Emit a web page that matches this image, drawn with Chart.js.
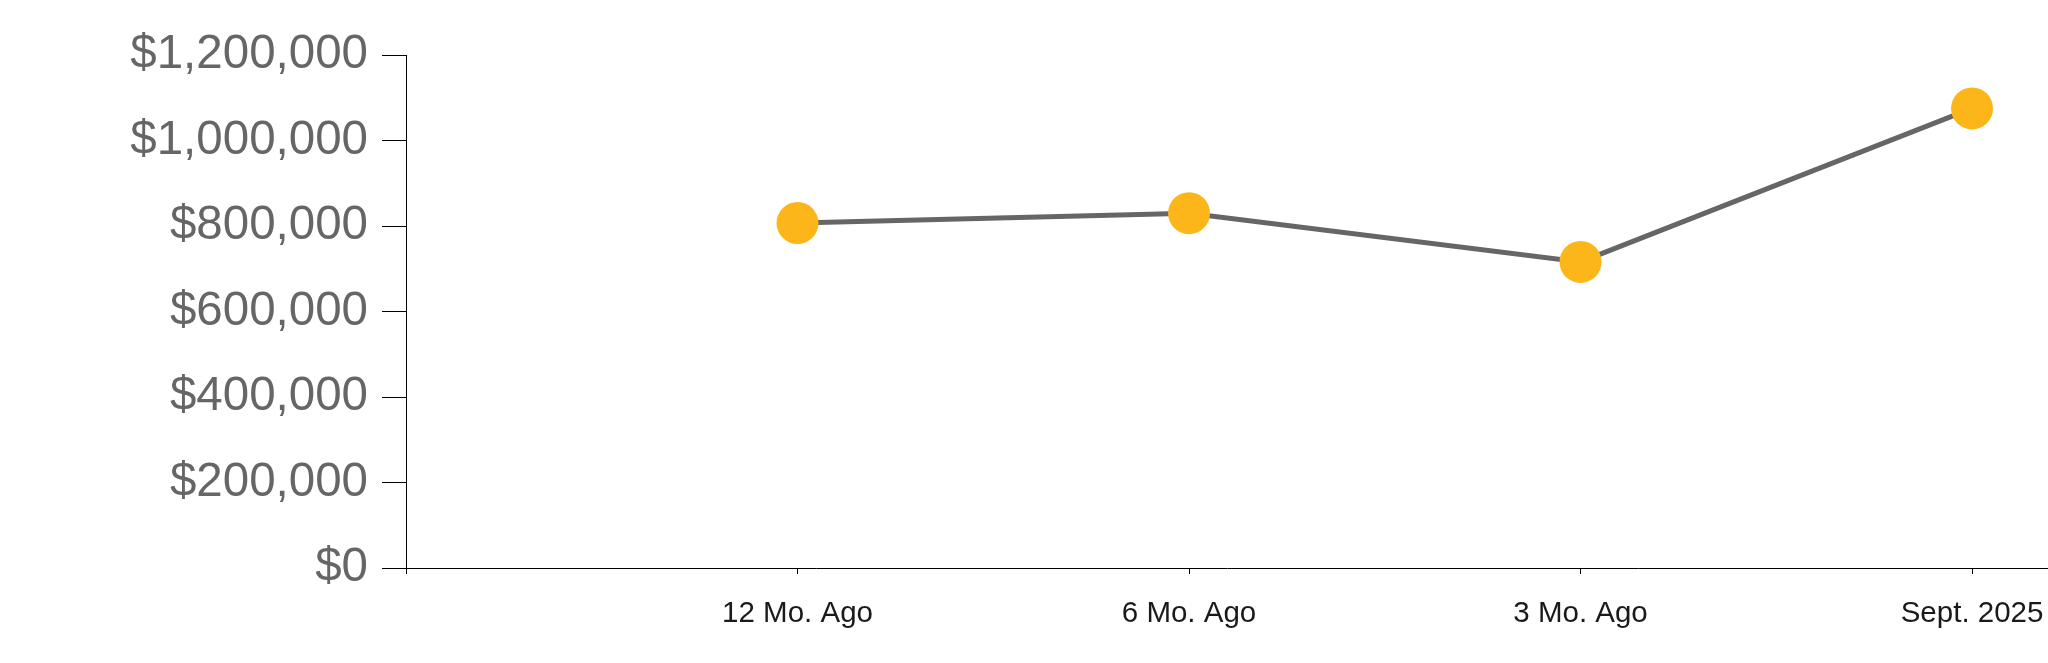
<!DOCTYPE html>
<html>
<head>
<meta charset="utf-8">
<script src="https://cdn.jsdelivr.net/npm/chart.js@4.4.1/dist/chart.umd.min.js"></script>
<style>
  html, body { margin: 0; padding: 0; background: #fff; overflow: hidden; }
  canvas { display: block; }
</style>
</head>
<body>
<canvas id="myChart" width="2048" height="663"></canvas>
<script>
const categories = ['12 Mo. Ago', '6 Mo. Ago', '3 Mo. Ago', 'Sept. 2025'];
const values = [807000, 830000, 716000, 1075000];
const yTicks = [0, 200000, 400000, 600000, 800000, 1000000, 1200000];

const FONT = "'Liberation Sans', Arial, Helvetica, sans-serif";

// x is a linear scale so the first slot (position 0) sits on the y axis
const points = values.map(function (v, i) {
    return { x: i + 1, y: v };
});

const ctx = document.getElementById('myChart').getContext('2d');

const config = {
    type: 'line',
    data: {
        datasets: [{
            data: points,
            borderColor: '#666666',
            borderWidth: 5,
            tension: 0,
            fill: false,
            pointRadius: 21,
            pointHoverRadius: 21,
            pointBackgroundColor: '#fcb61a',
            pointBorderColor: '#fcb61a',
            pointBorderWidth: 0,
            clip: false
        }]
    },
    options: {
        responsive: false,
        animation: false,
        events: [],
        layout: {
            autoPadding: false,
            padding: { top: 55, right: 0, bottom: 0, left: 0 }
        },
        plugins: {
            legend: { display: false },
            tooltip: { enabled: false }
        },
        scales: {
            x: {
                type: 'linear',
                min: 0,
                max: 4.194,
                afterBuildTicks: function (scale) {
                    scale.ticks = [0, 1, 2, 3, 4].map(function (v) { return { value: v }; });
                },
                afterFit: function (scale) {
                    scale.height = 95;
                    scale.paddingLeft = 0;
                    scale.paddingRight = 0;
                },
                border: { display: true, color: '#000', width: 1 },
                grid: {
                    drawOnChartArea: false,
                    drawTicks: true,
                    tickLength: 6,
                    color: '#000'
                },
                ticks: {
                    autoSkip: false,
                    maxRotation: 0,
                    padding: 22,
                    color: '#1a1a1a',
                    font: { family: FONT, size: 29.5 },
                    callback: function (value) {
                        return value >= 1 ? categories[value - 1] : '';
                    }
                }
            },
            y: {
                min: 0,
                max: 1200000,
                afterBuildTicks: function (scale) {
                    scale.ticks = yTicks.map(function (v) { return { value: v }; });
                },
                afterFit: function (scale) {
                    scale.width = 406;
                },
                border: { display: true, color: '#000', width: 1 },
                grid: {
                    drawOnChartArea: false,
                    drawTicks: true,
                    tickLength: 24,
                    color: '#000'
                },
                ticks: {
                    padding: 14,
                    color: '#666666',
                    font: { family: FONT, size: 47.5 },
                    callback: function (value) {
                        return '$' + value.toLocaleString('en-US');
                    }
                }
            }
        }
    }
};

const myChart = new Chart(ctx, config);
</script>
</body>
</html>
